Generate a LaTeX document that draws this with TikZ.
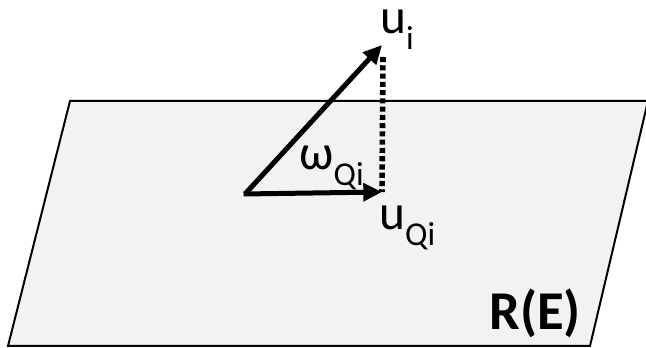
\documentclass[tikz,border=0pt]{standalone}
\usepackage{fontspec}
\setmainfont{Carlito}
\usetikzlibrary{arrows.meta, positioning}

\newcommand{\lowsub}[1]{\raisebox{-0.32em}{\fontsize{25}{28}\selectfont #1}}
\tikzset{
    vecarrow/.style={line width=3.75pt, -{Triangle[length=14pt, width=13pt]}},
    projline/.style={line width=4.2pt, dash pattern=on 3.8pt off 2.4pt},
    plane/.style={fill=black!5, draw=black, line width=1.5pt, line join=miter},
    vlabel/.style={inner sep=0pt, anchor=base west, font=\fontsize{37}{40}\selectfont}
}

\begin{document}
\begin{tikzpicture}[x=0.75pt, y=-0.75pt]
                \useasboundingbox (0,0) rectangle (646,348);

                % Plane R(E)
                \draw[plane] (70,101) -- (648,101) -- (590,346) -- (8,346) -- cycle;
                \node[inner sep=0pt, anchor=base west, font=\fontsize{41}{44}\bfseries] (re) at (489,330) {R(E)};

                % Vectors
                \coordinate (o) at (245,194);
                \coordinate (ui) at (382,45);
                \coordinate (uqi) at (382,192);
                \coordinate (top) at (383,57);
                \draw[projline] (top) -- (uqi);
                \draw[vecarrow, line cap=butt] (o) -- (ui);
                \draw[vecarrow] ([xshift=-1pt]o) -- (uqi);

                % Labels
                \node[vlabel] (lui) at (380,34) {u\lowsub{i}};
                \node[vlabel] (lw) at (299,170) {ω\lowsub{Qi}};
                \node[vlabel] (luqi) at (379,230) {u\lowsub{Qi}};
\end{tikzpicture}
\end{document}
